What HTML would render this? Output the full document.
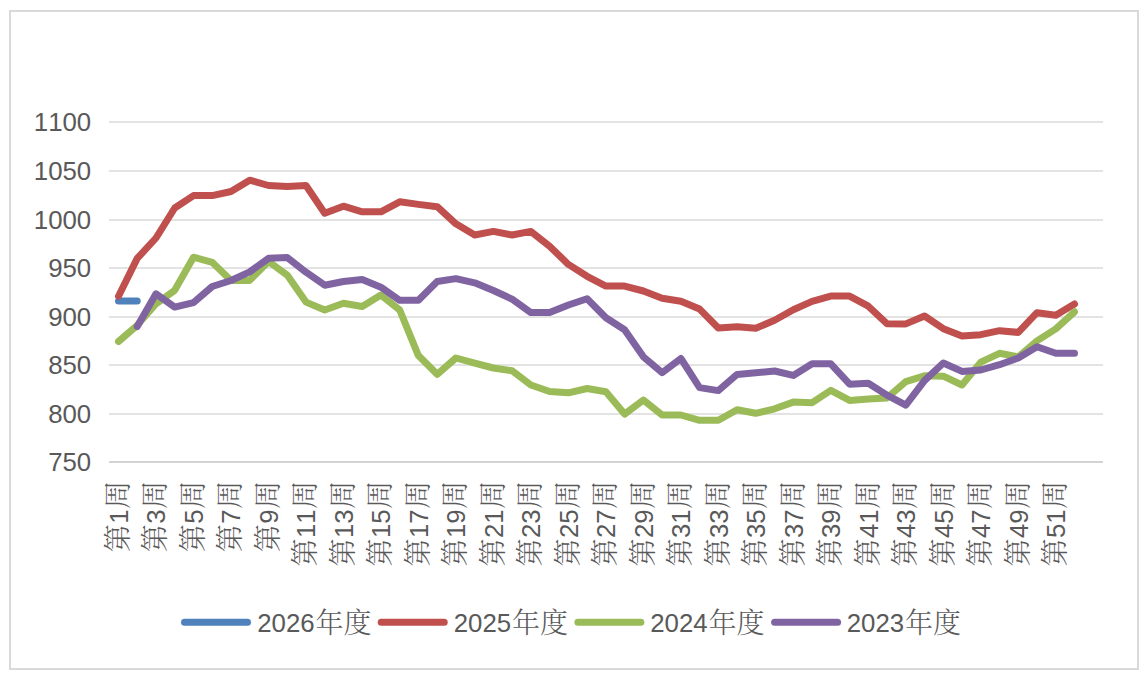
<!DOCTYPE html>
<html lang="zh-CN">
<head>
<meta charset="utf-8">
<title>周度走势图</title>
<style>
html,body{margin:0;padding:0;background:#fff;}
body{width:1145px;height:680px;overflow:hidden;}
svg{display:block;}
text{font-family:"Liberation Sans","Noto Serif CJK SC",serif;fill:#595959;}
.c{font-family:"Liberation Serif","Noto Serif CJK SC",serif;font-size:28.0px;font-weight:300;}
.n{font-family:"Liberation Sans",sans-serif;font-size:25.8px;font-weight:400;font-kerning:none;}
</style>
</head>
<body>
<svg width="1145" height="680" viewBox="0 0 1145 680">
<rect x="0" y="0" width="1145" height="680" fill="#ffffff"/>
<rect x="10" y="11" width="1128" height="658" fill="#ffffff" stroke="#d9d9d9" stroke-width="2"/>

<g stroke="#e3e3e3" stroke-width="2">
<line x1="109.0" y1="122.0" x2="1103.0" y2="122.0"/>
<line x1="109.0" y1="171.0" x2="1103.0" y2="171.0"/>
<line x1="109.0" y1="220.0" x2="1103.0" y2="220.0"/>
<line x1="109.0" y1="268.0" x2="1103.0" y2="268.0"/>
<line x1="109.0" y1="317.0" x2="1103.0" y2="317.0"/>
<line x1="109.0" y1="365.0" x2="1103.0" y2="365.0"/>
<line x1="109.0" y1="414.0" x2="1103.0" y2="414.0"/>
<line x1="109.0" y1="462.0" x2="1103.0" y2="462.0" stroke="#d3d3d3"/>
</g>
<g text-anchor="end">
<text class="n" x="91.2" y="131.3">1100</text>
<text class="n" x="91.2" y="180.3">1050</text>
<text class="n" x="91.2" y="229.3">1000</text>
<text class="n" x="91.2" y="277.3">950</text>
<text class="n" x="91.2" y="326.3">900</text>
<text class="n" x="91.2" y="374.3">850</text>
<text class="n" x="91.2" y="423.3">800</text>
<text class="n" x="91.2" y="471.3">750</text>
</g>
<polyline points="118.5,301.1 137.2,301.1" fill="none" stroke="#4f81bd" stroke-width="7.0" stroke-linecap="round" stroke-linejoin="round"/>
<polyline points="118.5,296.2 137.2,258.4 156.0,238.0 174.7,208.0 193.5,195.6 212.2,195.6 231.0,191.5 249.7,180.2 268.5,185.5 287.2,186.5 306.0,185.5 324.7,213.3 343.4,206.2 362.2,211.8 380.9,211.8 399.7,201.8 418.4,204.4 437.2,206.7 455.9,223.8 474.7,235.0 493.4,231.4 512.1,235.0 530.9,231.4 549.6,246.2 568.4,264.4 587.1,276.3 605.9,286.1 624.6,286.1 643.4,291.0 662.1,298.2 680.9,301.3 699.6,309.1 718.3,328.0 737.1,326.8 755.8,328.2 774.6,320.3 793.3,309.7 812.1,301.4 830.8,296.1 849.6,296.1 868.3,306.2 887.0,323.8 905.8,323.9 924.5,316.0 943.3,328.7 962.0,336.1 980.8,334.7 999.5,330.7 1018.3,332.4 1037.0,312.7 1055.8,315.3 1074.5,304.0" fill="none" stroke="#c0504d" stroke-width="7.0" stroke-linecap="round" stroke-linejoin="round"/>
<polyline points="118.5,341.5 137.2,325.3 156.0,303.8 174.7,290.3 193.5,257.2 212.2,262.3 231.0,280.4 249.7,280.4 268.5,261.5 287.2,275.1 306.0,302.1 324.7,310.0 343.4,303.3 362.2,306.5 380.9,295.0 399.7,310.0 418.4,355.6 437.2,374.3 455.9,358.0 474.7,363.2 493.4,368.0 512.1,370.8 530.9,385.0 549.6,391.5 568.4,392.8 587.1,388.5 605.9,391.8 624.6,414.1 643.4,400.0 662.1,415.0 680.9,415.0 699.6,420.3 718.3,420.3 737.1,409.7 755.8,413.3 774.6,408.8 793.3,402.1 812.1,402.7 830.8,390.3 849.6,400.4 868.3,399.1 887.0,397.9 905.8,381.7 924.5,375.8 943.3,376.2 962.0,385.0 980.8,362.1 999.5,353.3 1018.3,356.8 1037.0,340.9 1055.8,328.9 1074.5,311.8" fill="none" stroke="#9bbb59" stroke-width="7.0" stroke-linecap="round" stroke-linejoin="round"/>
<polyline points="137.2,326.5 156.0,293.8 174.7,307.1 193.5,302.7 212.2,286.5 231.0,280.5 249.7,271.9 268.5,258.3 287.2,257.6 306.0,272.2 324.7,285.2 343.4,281.5 362.2,279.5 380.9,287.2 399.7,300.3 418.4,300.3 437.2,281.5 455.9,278.6 474.7,282.8 493.4,290.5 512.1,299.2 530.9,312.6 549.6,312.6 568.4,305.0 587.1,298.7 605.9,317.7 624.6,329.8 643.4,356.8 662.1,372.7 680.9,358.5 699.6,387.6 718.3,390.6 737.1,374.4 755.8,372.7 774.6,371.0 793.3,375.4 812.1,363.8 830.8,363.8 849.6,384.2 868.3,383.2 887.0,395.1 905.8,405.2 924.5,380.6 943.3,363.0 962.0,371.4 980.8,370.0 999.5,364.7 1018.3,358.0 1037.0,346.7 1055.8,353.3 1074.5,353.3" fill="none" stroke="#8064a2" stroke-width="7.0" stroke-linecap="round" stroke-linejoin="round"/>
<g text-anchor="end">
<text transform="translate(127.7,480.8) rotate(-90)"><tspan class="c">第</tspan><tspan class="n" dx="0.5">1</tspan><tspan class="c" dx="0.5">周</tspan></text>
<text transform="translate(165.2,480.8) rotate(-90)"><tspan class="c">第</tspan><tspan class="n" dx="0.5">3</tspan><tspan class="c" dx="0.5">周</tspan></text>
<text transform="translate(202.7,480.8) rotate(-90)"><tspan class="c">第</tspan><tspan class="n" dx="0.5">5</tspan><tspan class="c" dx="0.5">周</tspan></text>
<text transform="translate(240.2,480.8) rotate(-90)"><tspan class="c">第</tspan><tspan class="n" dx="0.5">7</tspan><tspan class="c" dx="0.5">周</tspan></text>
<text transform="translate(277.7,480.8) rotate(-90)"><tspan class="c">第</tspan><tspan class="n" dx="0.5">9</tspan><tspan class="c" dx="0.5">周</tspan></text>
<text transform="translate(315.2,480.8) rotate(-90)"><tspan class="c">第</tspan><tspan class="n" dx="0.5">11</tspan><tspan class="c" dx="0.5">周</tspan></text>
<text transform="translate(352.6,480.8) rotate(-90)"><tspan class="c">第</tspan><tspan class="n" dx="0.5">13</tspan><tspan class="c" dx="0.5">周</tspan></text>
<text transform="translate(390.1,480.8) rotate(-90)"><tspan class="c">第</tspan><tspan class="n" dx="0.5">15</tspan><tspan class="c" dx="0.5">周</tspan></text>
<text transform="translate(427.6,480.8) rotate(-90)"><tspan class="c">第</tspan><tspan class="n" dx="0.5">17</tspan><tspan class="c" dx="0.5">周</tspan></text>
<text transform="translate(465.1,480.8) rotate(-90)"><tspan class="c">第</tspan><tspan class="n" dx="0.5">19</tspan><tspan class="c" dx="0.5">周</tspan></text>
<text transform="translate(502.6,480.8) rotate(-90)"><tspan class="c">第</tspan><tspan class="n" dx="0.5">21</tspan><tspan class="c" dx="0.5">周</tspan></text>
<text transform="translate(540.1,480.8) rotate(-90)"><tspan class="c">第</tspan><tspan class="n" dx="0.5">23</tspan><tspan class="c" dx="0.5">周</tspan></text>
<text transform="translate(577.6,480.8) rotate(-90)"><tspan class="c">第</tspan><tspan class="n" dx="0.5">25</tspan><tspan class="c" dx="0.5">周</tspan></text>
<text transform="translate(615.1,480.8) rotate(-90)"><tspan class="c">第</tspan><tspan class="n" dx="0.5">27</tspan><tspan class="c" dx="0.5">周</tspan></text>
<text transform="translate(652.6,480.8) rotate(-90)"><tspan class="c">第</tspan><tspan class="n" dx="0.5">29</tspan><tspan class="c" dx="0.5">周</tspan></text>
<text transform="translate(690.1,480.8) rotate(-90)"><tspan class="c">第</tspan><tspan class="n" dx="0.5">31</tspan><tspan class="c" dx="0.5">周</tspan></text>
<text transform="translate(727.5,480.8) rotate(-90)"><tspan class="c">第</tspan><tspan class="n" dx="0.5">33</tspan><tspan class="c" dx="0.5">周</tspan></text>
<text transform="translate(765.0,480.8) rotate(-90)"><tspan class="c">第</tspan><tspan class="n" dx="0.5">35</tspan><tspan class="c" dx="0.5">周</tspan></text>
<text transform="translate(802.5,480.8) rotate(-90)"><tspan class="c">第</tspan><tspan class="n" dx="0.5">37</tspan><tspan class="c" dx="0.5">周</tspan></text>
<text transform="translate(840.0,480.8) rotate(-90)"><tspan class="c">第</tspan><tspan class="n" dx="0.5">39</tspan><tspan class="c" dx="0.5">周</tspan></text>
<text transform="translate(877.5,480.8) rotate(-90)"><tspan class="c">第</tspan><tspan class="n" dx="0.5">41</tspan><tspan class="c" dx="0.5">周</tspan></text>
<text transform="translate(915.0,480.8) rotate(-90)"><tspan class="c">第</tspan><tspan class="n" dx="0.5">43</tspan><tspan class="c" dx="0.5">周</tspan></text>
<text transform="translate(952.5,480.8) rotate(-90)"><tspan class="c">第</tspan><tspan class="n" dx="0.5">45</tspan><tspan class="c" dx="0.5">周</tspan></text>
<text transform="translate(990.0,480.8) rotate(-90)"><tspan class="c">第</tspan><tspan class="n" dx="0.5">47</tspan><tspan class="c" dx="0.5">周</tspan></text>
<text transform="translate(1027.5,480.8) rotate(-90)"><tspan class="c">第</tspan><tspan class="n" dx="0.5">49</tspan><tspan class="c" dx="0.5">周</tspan></text>
<text transform="translate(1065.0,480.8) rotate(-90)"><tspan class="c">第</tspan><tspan class="n" dx="0.5">51</tspan><tspan class="c" dx="0.5">周</tspan></text>
</g>
<line x1="184.5" y1="622.3" x2="247.5" y2="622.3" stroke="#4f81bd" stroke-width="7.0" stroke-linecap="round"/>
<text x="257.2" y="631.9"><tspan class="n">2026</tspan><tspan class="c" dx="1.0" dy="1.0">年度</tspan></text>
<line x1="381.2" y1="622.3" x2="444.2" y2="622.3" stroke="#c0504d" stroke-width="7.0" stroke-linecap="round"/>
<text x="453.7" y="631.9"><tspan class="n">2025</tspan><tspan class="c" dx="1.0" dy="1.0">年度</tspan></text>
<line x1="577.9" y1="622.3" x2="640.9" y2="622.3" stroke="#9bbb59" stroke-width="7.0" stroke-linecap="round"/>
<text x="650.2" y="631.9"><tspan class="n">2024</tspan><tspan class="c" dx="1.0" dy="1.0">年度</tspan></text>
<line x1="774.6" y1="622.3" x2="837.6" y2="622.3" stroke="#8064a2" stroke-width="7.0" stroke-linecap="round"/>
<text x="846.7" y="631.9"><tspan class="n">2023</tspan><tspan class="c" dx="1.0" dy="1.0">年度</tspan></text>
</svg>
</body>
</html>
